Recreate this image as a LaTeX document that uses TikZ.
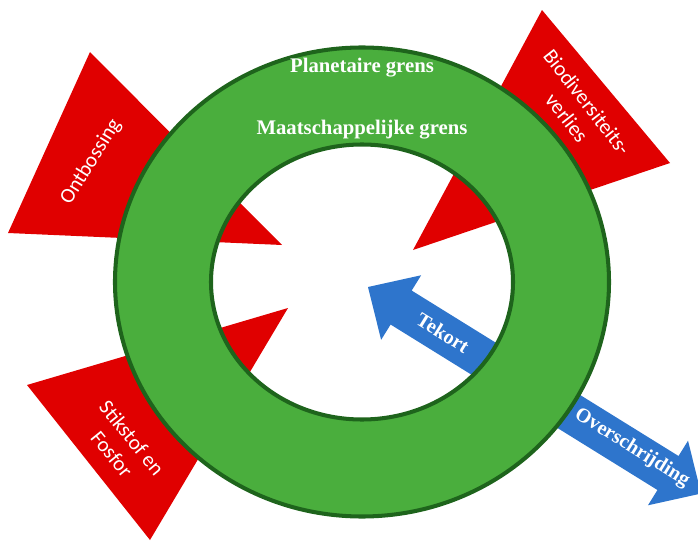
\documentclass[tikz,border=0pt]{standalone}
\usepackage{fontspec}
\setmainfont{Liberation Serif}
\newfontfamily\calfont{Carlito}
\usetikzlibrary{calc}
\definecolor{ringgreen}{RGB}{74,174,61}
\definecolor{ringedge}{RGB}{30,100,28}
\definecolor{warnred}{RGB}{224,0,0}
\definecolor{arrowblue}{RGB}{46,117,204}

\begin{document}
\begin{tikzpicture}[x=0.02cm,y=-0.02cm,
  redlabel/.style={text=white,font=\calfont\fontsize{12}{14.6}\selectfont,align=center},
  ringlabel/.style={text=white,font=\bfseries\fontsize{11.8}{13}\selectfont},
  arrowlabel/.style={text=white,font=\bfseries\fontsize{11.5}{13}\selectfont,rotate=-\ang}]

\useasboundingbox (0,0) rectangle (698,541);

% Figure parameters (pixel units, y pointing down)
\def \ang{ 31.8 } % direction of the blue double arrow
\def \hl{  39   } % length of an arrow head
\def \hw{  38   } % half width of an arrow head
\def \sw{  20   } % half width of the shaft

% Centre of the ring and the two tips of the blue arrow
\coordinate (C)  at (362,282);
\coordinate (T1) at (368,287);
\coordinate (T2) at ($(T1)+(\ang:392)$);

% The three red triangles (pressure on the boundaries)
\coordinate (O1) at (90,52);  \coordinate (O2) at (8,233);   \coordinate (O3) at (282,245);
\coordinate (B1) at (542,10); \coordinate (B2) at (670,163); \coordinate (B3) at (413,250);
\coordinate (S1) at (288,308); \coordinate (S2) at (27,385); \coordinate (S3) at (150,540);

\fill[warnred] (O1) -- (O2) -- (O3) -- cycle;
\fill[warnred] (B1) -- (B2) -- (B3) -- cycle;
\fill[warnred] (S1) -- (S2) -- (S3) -- cycle;

% The blue double arrow, drawn under the ring
\fill[arrowblue] (T1)
  -- ($(T1)+(\ang:\hl)+(\ang+90:\hw)$)
  -- ($(T1)+(\ang:\hl)+(\ang+90:\sw)$)
  -- ($(T2)-(\ang:\hl)+(\ang+90:\sw)$)
  -- ($(T2)-(\ang:\hl)+(\ang+90:\hw)$)
  -- (T2)
  -- ($(T2)-(\ang:\hl)-(\ang+90:\hw)$)
  -- ($(T2)-(\ang:\hl)-(\ang+90:\sw)$)
  -- ($(T1)+(\ang:\hl)-(\ang+90:\sw)$)
  -- ($(T1)+(\ang:\hl)-(\ang+90:\hw)$)
  -- cycle;

% The ring between the social and the planetary boundary
\filldraw[fill=ringgreen,draw=ringedge,line width=2.3pt,even odd rule]
  (C) ellipse [x radius=247, y radius=234.5]
  (C) ellipse [x radius=151, y radius=137.5];

% Labels
\node[ringlabel] (planet)  at (362,68)  {Planetaire grens};
\node[ringlabel] (sociaal) at (362,130) {Maatschappelijke grens};

\node[redlabel,rotate=58]  (ontbos) at (91,162)  {Ontbossing};
\node[redlabel,rotate=-52] (biodiv) at (577,110) {Biodiversiteits-\\verlies};
\node[redlabel,rotate=-51] (stikst) at (122,446) {Stikstof en\\Fosfor};

\node[arrowlabel] (tekort) at (443,333) {Tekort};
\node[arrowlabel] (oversch) at (632,448) {Overschrijding};
\end{tikzpicture}
\end{document}
